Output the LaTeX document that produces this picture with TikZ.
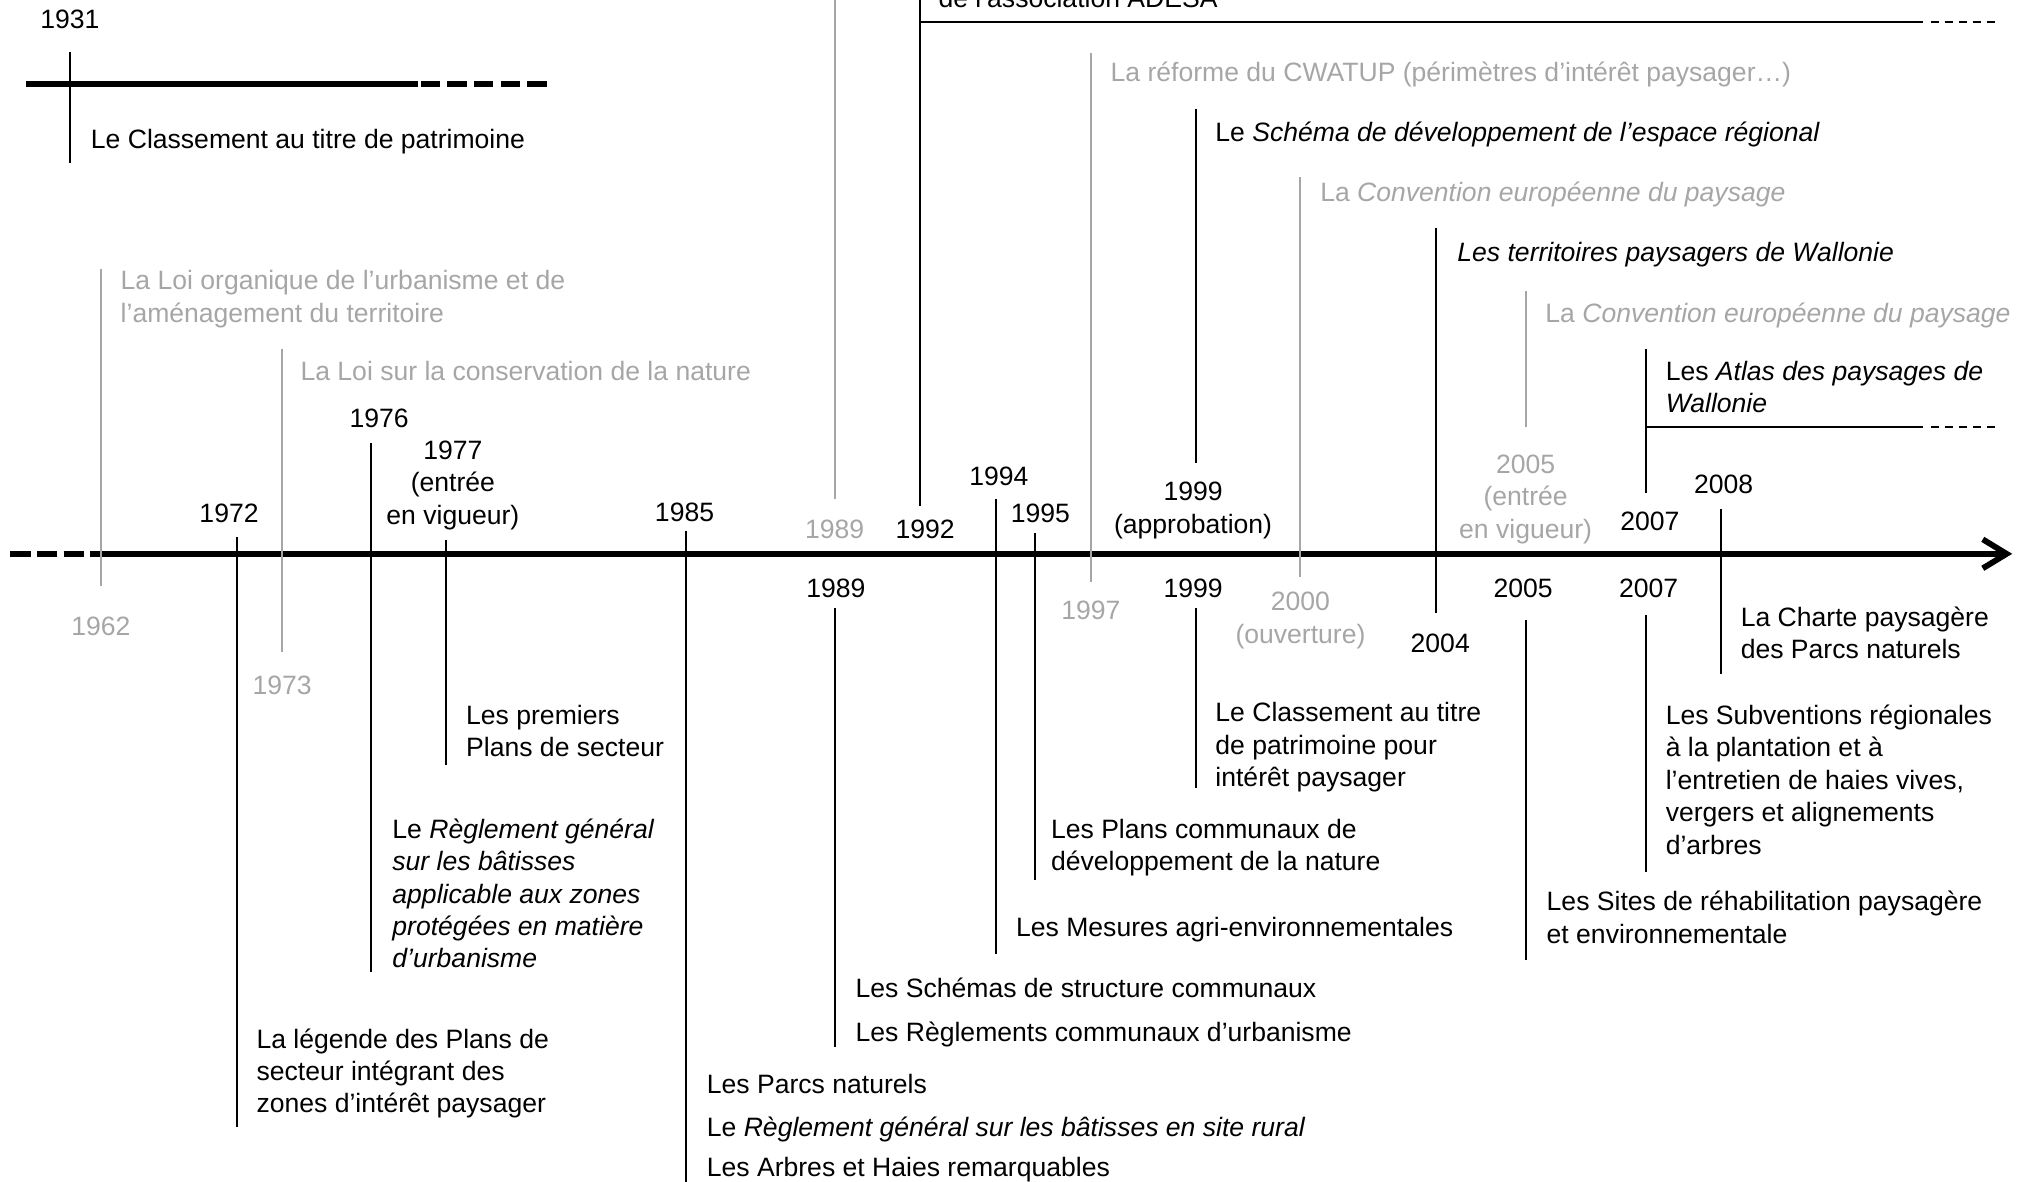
\documentclass[tikz,border=0pt]{standalone}
\usepackage{fontspec}
\setmainfont{Liberation Sans}
\usetikzlibrary{arrows.meta}
\definecolor{grisclair}{RGB}{166,166,166}
\tikzset{
  evt/.style={anchor=base west, inner sep=0pt, align=left},
  yr/.style={anchor=base, inner sep=0pt, align=center},
  pale/.style={text=grisclair},
  tick/.style={line width=1.1pt},
  paletick/.style={tick, draw=grisclair},
  axe/.style={line width=3.2pt},
  suite/.style={tick, dash pattern=on 1.55mm off 1.15mm}
}
\begin{document}
\begin{tikzpicture}[x=0.25mm, y=-0.25mm, font=\fontsize{14.6}{17.8}\selectfont]
  \useasboundingbox (0,0) rectangle (1568,913);

  % axe du temps
  \draw[axe, dash pattern=on 3.9mm off 1.25mm] (8,428) -- (78,428);
  \draw[axe, -{Straight Barb[length=4.6mm, width=5.6mm]}] (78,428) -- (1555,428);

  % 1931
  \draw[axe] (20,65) -- (323,65);
  \draw[axe, dash pattern=on 3.75mm off 1.4mm] (325,65) -- (424,65);

  % durees qui se prolongent
  \draw[tick] (711,17) -- (1486,17);
  \draw[suite] (1492,17) -- (1542,17);
  \draw[tick] (1272,330) -- (1486,330);
  \draw[suite] (1492,330) -- (1542,330);

  % traits des dates
  \foreach \x/\a/\b in {54/40/126, 711/-5/391, 924/84/358, 1110/176/474,
      1272/270/381, 1330/393/521, 183/415/871, 287/342/751, 345/417/591,
      530/410/920, 645/470/809, 770/386/737, 800/412/680, 924/470/609,
      1179/479/742, 1272/475/674}
    \draw[tick] (\x,\a) -- (\x,\b);
  \foreach \x/\a/\b in {78/208/453, 218/270/504, 645/-5/386, 843/41/450,
      1005/137/446, 1179/225/330}
    \draw[paletick] (\x,\a) -- (\x,\b);

  % au-dessus de l'axe (base = derniere ligne)
  \node[yr] (an1931) at (54,22) {1931};
  \node[evt] (ev1931) at (70,115) {Le Classement au titre de patrimoine};
  \node[evt, pale] (ev1962) at (93,249) {La Loi organique de l’urbanisme et de\\l’aménagement du territoire};
  \node[evt, pale] (ev1973) at (232,294) {La Loi sur la conservation de la nature};
  \node[evt] (ev1992) at (725,6) {de l’association ADESA};
  \node[evt, pale] (ev1997) at (858,63) {La réforme du CWATUP (périmètres d’intérêt paysager…)};
  \node[evt] (ev1999h) at (939,109) {Le \textit{Schéma de développement de l’espace régional}};
  \node[evt, pale] (ev2000) at (1020,156) {La \textit{Convention européenne du paysage}};
  \node[evt] (ev2004) at (1126,202) {\textit{Les territoires paysagers de Wallonie}};
  \node[evt, pale] (ev2005h) at (1194,249) {La \textit{Convention européenne du paysage}};
  \node[evt] (ev2007h) at (1287,319) {Les \textit{Atlas des paysages de}\\\textit{Wallonie}};

  \node[yr] (an1972) at (177,404) {1972};
  \node[yr] (an1976) at (293,330) {1976};
  \node[yr] (an1977) at (350,405) {1977\\(entrée\\en vigueur)};
  \node[yr] (an1985) at (529,403) {1985};
  \node[yr, pale] (an1989h) at (645,416) {1989};
  \node[yr] (an1992) at (715,416) {1992};
  \node[yr] (an1994) at (772,375) {1994};
  \node[yr] (an1995) at (804,404) {1995};
  \node[yr] (an1999h) at (922,412) {1999\\(approbation)};
  \node[yr, pale] (an2005h) at (1179,416) {2005\\(entrée\\en vigueur)};
  \node[yr] (an2007h) at (1275,410) {2007};
  \node[yr] (an2008) at (1332,381) {2008};

  % sous l'axe
  \node[yr, pale] (an1962) at (78,491) {1962};
  \node[yr, pale] (an1973) at (218,537) {1973};
  \node[yr] (an1989b) at (646,462) {1989};
  \node[yr, pale] (an1997) at (843,479) {1997};
  \node[yr] (an1999b) at (922,462) {1999};
  \node[yr, pale] (an2000) at (1005,497) {2000\\(ouverture)};
  \node[yr] (an2004) at (1113,504) {2004};
  \node[yr] (an2005b) at (1177,462) {2005};
  \node[yr] (an2007b) at (1274,462) {2007};

  \node[evt] (ev2008) at (1345,509) {La Charte paysagère\\des Parcs naturels};
  \node[evt] (ev1977) at (360,585) {Les premiers\\Plans de secteur};
  \node[evt] (ev1999b) at (939,608) {Le Classement au titre\\de patrimoine pour\\intérêt paysager};
  \node[evt] (ev2007b) at (1287,660) {Les Subventions régionales\\à la plantation et à\\l’entretien de haies vives,\\vergers et alignements\\d’arbres};
  \node[evt] (ev1976) at (303,748) {Le \textit{Règlement général}\\\textit{sur les bâtisses}\\\textit{applicable aux zones}\\\textit{protégées en matière}\\\textit{d’urbanisme}};
  \node[evt] (ev1995) at (812,673) {Les Plans communaux de\\développement de la nature};
  \node[evt] (ev2005b) at (1195,729) {Les Sites de réhabilitation paysagère\\et environnementale};
  \node[evt] (ev1994) at (785,724) {Les Mesures agri-environnementales};
  \node[evt] (ev1989a) at (661,771) {Les Schémas de structure communaux};
  \node[evt] (ev1989b) at (661,805) {Les Règlements communaux d’urbanisme};
  \node[evt] (ev1972) at (198,860) {La légende des Plans de\\secteur intégrant des\\zones d’intérêt paysager};
  \node[evt] (ev1985a) at (546,845) {Les Parcs naturels};
  \node[evt] (ev1985b) at (546,878) {Le \textit{Règlement général sur les bâtisses en site rural}};
  \node[evt] (ev1985c) at (546,909) {Les Arbres et Haies remarquables};
\end{tikzpicture}
\end{document}
